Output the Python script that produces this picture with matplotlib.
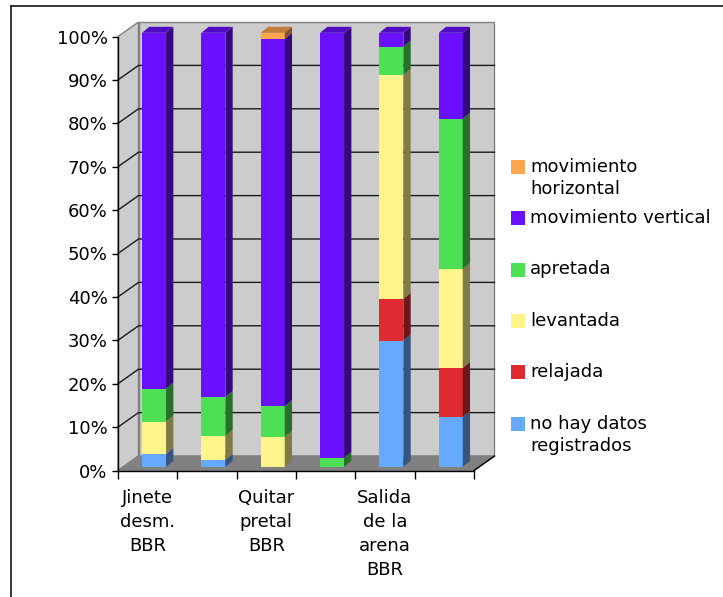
import numpy as np
import matplotlib
matplotlib.use('Agg')
import matplotlib.pyplot as plt
from matplotlib.patches import Polygon
from matplotlib.lines import Line2D
from matplotlib.transforms import offset_copy

# datos (porcentajes por categoria)
categories = ['Jinete\ndesm.\nBBR', '', 'Quitar\npretal\nBBR', '', 'Salida\nde la\narena\nBBR', '']
series = ['no hay datos\nregistrados', 'relajada', 'levantada', 'apretada',
          'movimiento vertical', 'movimiento\nhorizontal']
no_datos = [3.0, 1.6, 0.0, 0.0, 29.1, 11.5]
relajada = [0.0, 0.0, 0.0, 0.0, 9.6, 11.3]
levantada = [7.4, 5.5, 6.9, 0.0, 51.6, 22.8]
apretada = [7.6, 9.0, 7.1, 2.1, 6.5, 34.6]
mov_vertical = [82.0, 83.9, 84.6, 97.9, 3.2, 19.8]
mov_horizontal = [0.0, 0.0, 1.4, 0.0, 0.0, 0.0]
yticks = list(range(0, 101, 10))

# colores: frente, lado, tapa
colors = [
    ('#66aaff', '#335580', '#4d80c0'),
    ('#e02a32', '#701519', '#a82026'),
    ('#fff48c', '#807a46', '#c0b769'),
    ('#4de055', '#27702b', '#3aa840'),
    ('#6a10ff', '#350880', '#500cc0'),
    ('#ffa64d', '#805326', '#c07d3a'),
]

W, H = 723, 597
fig = plt.figure(figsize=(W / 100, H / 100), dpi=100)


def fx(px):
    return px / W


def fy(py):
    return 1 - py / H


n = len(categories)
ax = fig.add_axes([fx(118), fy(470.5), fx(474) - fx(118), fy(36.5) - fy(470.5)])
ax.set_xlim(0, n)
ax.set_ylim(0, 100)
ax.set_autoscale_on(False)
ax.patch.set_visible(False)
ax.spines['top'].set_visible(False)
ax.spines['right'].set_visible(False)
ax.spines['left'].set_linewidth(1)
ax.spines['bottom'].set_linewidth(1)

# pixeles por unidad de datos
p0 = ax.transData.transform((0, 0))
p1 = ax.transData.transform((1, 1))
ux, uy = p1 - p0
wdx, wdy = 20.5 / ux, 14.5 / uy   # profundidad de las paredes
sdx, sdy = 7.3 / ux, 6.0 / uy     # profundidad de las barras
bar_w = 24 / ux

# paredes y suelo
wall_kw = dict(closed=True, clip_on=False, lw=1, ec='#808080')
ax.add_patch(Polygon([(wdx, wdy), (n + wdx, wdy), (n + wdx, 100 + wdy), (wdx, 100 + wdy)],
                     fc='#cccccc', zorder=0.5, **wall_kw))
ax.add_patch(Polygon([(0, 0), (wdx, wdy), (wdx, 100 + wdy), (0, 100)],
                     fc='#cccccc', zorder=0.5, **wall_kw))
ax.add_patch(Polygon([(0, 0), (n, 0), (n + wdx, wdy), (wdx, wdy)],
                     fc='#808080', zorder=0.6, **wall_kw))
for v in yticks[1:-1]:
    ax.plot([0, wdx, n + wdx], [v, v + wdy, v + wdy], color='#1a1a1a', lw=1,
            clip_on=False, zorder=1)
ax.plot([n, n + wdx], [0, wdy], color='black', lw=1, clip_on=False, zorder=2)

# barras apiladas con efecto 3D
bar_trans = offset_copy(ax.transData, fig=fig, x=6.4, y=3.7, units='dots')
stack = [no_datos, relajada, levantada, apretada, mov_vertical, mov_horizontal]
x = np.arange(n) + 0.5
bottom = np.zeros(n)
top_color = [None] * n
for vals, (front, side, top) in zip(stack, colors):
    vals = np.array(vals, dtype=float)
    ax.bar(x, vals, width=bar_w, bottom=bottom, color=front, lw=0,
           transform=bar_trans, zorder=3, clip_on=False)
    for i in range(n):
        if vals[i] <= 0:
            continue
        x1 = x[i] + bar_w / 2
        b, t = bottom[i], bottom[i] + vals[i]
        ax.add_patch(Polygon([(x1, b), (x1 + sdx, b + sdy), (x1 + sdx, t + sdy), (x1, t)],
                             closed=True, fc=side, lw=0, transform=bar_trans,
                             zorder=3, clip_on=False))
        top_color[i] = top
    bottom += vals

for i in range(n):
    x0, x1, t = x[i] - bar_w / 2, x[i] + bar_w / 2, bottom[i]
    ax.add_patch(Polygon([(x0, t), (x1, t), (x1 + sdx, t + sdy), (x0 + sdx, t + sdy)],
                         closed=True, fc=top_color[i], lw=0, transform=bar_trans,
                         zorder=3, clip_on=False))

# ejes
ax.set_yticks(yticks)
ax.set_yticklabels([f'{v}%' for v in yticks])
ax.tick_params(axis='y', length=4.5, width=1, pad=3, labelsize=13)
ax.set_xticks(np.arange(n + 1))
ax.set_xticklabels([''] * (n + 1))
ax.tick_params(axis='x', which='major', length=6, width=1)
ax.set_xticks(x, minor=True)
ax.set_xticklabels(categories, minor=True, fontsize=13, linespacing=1.45)
ax.tick_params(axis='x', which='minor', length=0, pad=13)

# leyenda
for k, (name, (front, _, _)) in enumerate(zip(series[::-1], colors[::-1])):
    cy = 166.7 + k * 51.4
    fig.patches.append(plt.Rectangle((fx(511), fy(cy + 7)), fx(14), 14 / H,
                                     fc=front, ec='none', transform=fig.transFigure))
    fig.text(fx(530), fy(cy - 9), name, fontsize=13, va='top', ha='left',
             linespacing=1.3)

# marco
fig.add_artist(Line2D([fx(11), 1.02], [fy(6), fy(6)], color='black', lw=1.1,
                      transform=fig.transFigure))
fig.add_artist(Line2D([fx(11), fx(11)], [fy(6), -0.02], color='black', lw=1.1,
                      transform=fig.transFigure))

fig.savefig('out.png', dpi=100)
